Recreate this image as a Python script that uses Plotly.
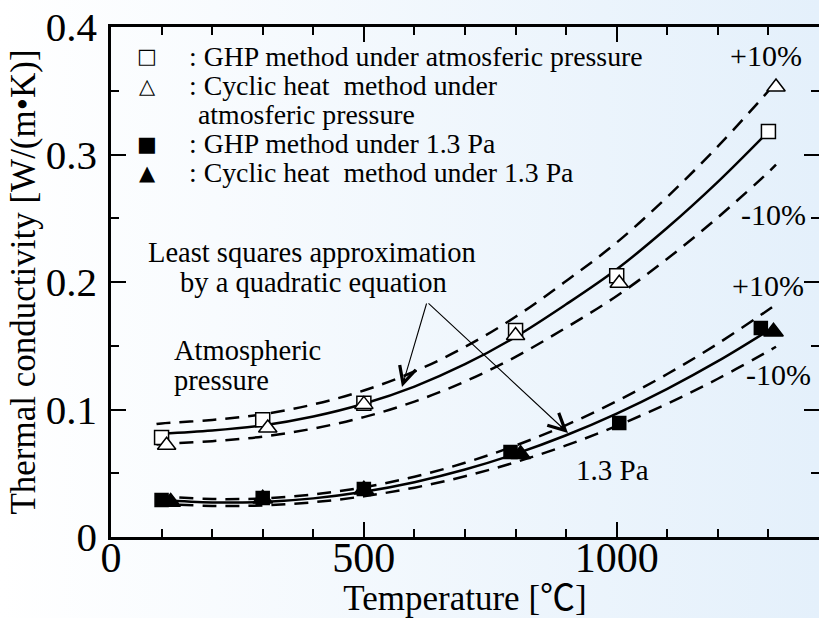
import base64
import plotly.graph_objects as go

# ---------------- data ----------------
# measured points (temperature degC, conductivity W/(m K))
ghp_atm_x = [100, 300, 500, 800, 1000, 1300]
ghp_atm_y = [0.078, 0.092, 0.105, 0.162, 0.205, 0.318]
cyc_atm_x = [110, 310, 500, 800, 1005, 1315]
cyc_atm_y = [0.072, 0.0855, 0.104, 0.158, 0.199, 0.353]
ghp_vac_x = [100, 300, 500, 790, 1005, 1285]
ghp_vac_y = [0.029, 0.0305, 0.0376, 0.0667, 0.0894, 0.164]
cyc_vac_x = [118, 300, 500, 810, 1310]
cyc_vac_y = [0.0275, 0.030, 0.037, 0.065, 0.161]

# least-squares quadratic curves
fit_x = [90, 100, 200, 300, 400, 500, 600, 700, 800, 900, 1000, 1100, 1200, 1300, 1315]
fit_atm = [0.0805, 0.081, 0.0835, 0.0875, 0.0945, 0.1045, 0.118, 0.1355, 0.157,
           0.1825, 0.210, 0.2425, 0.2785, 0.318, 0.3245]
fit_vac = [0.0296, 0.029, 0.0271, 0.0275, 0.0303, 0.0355, 0.043, 0.0529, 0.0652,
           0.0798, 0.0968, 0.1162, 0.1379, 0.162, 0.1658]
band_hi = 1.10   # +10 %
band_lo = 0.90   # -10 %

x_ticks = [0, 500, 1000]
x_ticktext = ["0", "500", "1000"]
y_ticks = [0, 0.1, 0.2, 0.3, 0.4]
y_ticktext = ["0", "0.1", "0.2", "0.3", "0.4"]

# ---------------- layout helpers ----------------
W, H = 819, 618
L, R, T, B = 111, 0, 27, 81
PW, PH = W - L - R, H - T - B
FONT = "Liberation Serif, Times New Roman, Noto Sans CJK JP, serif"


def px(xp):
    return (xp - L) / PW


def py(yp):
    return (H - B - yp) / PH


fig = go.Figure()

dash = "14px,9px"
for ys in (fit_atm, fit_vac):
    fig.add_trace(go.Scatter(x=fit_x, y=[v * band_hi for v in ys], mode="lines",
                             line=dict(color="black", width=2.5, dash=dash, shape="spline"),
                             showlegend=False, hoverinfo="skip"))
    fig.add_trace(go.Scatter(x=fit_x, y=[v * band_lo for v in ys], mode="lines",
                             line=dict(color="black", width=2.5, dash=dash, shape="spline"),
                             showlegend=False, hoverinfo="skip"))
    fig.add_trace(go.Scatter(x=fit_x[1:-1], y=ys[1:-1], mode="lines",
                             line=dict(color="black", width=2.5, shape="spline"),
                             showlegend=False, hoverinfo="skip"))

mk_line = dict(color="black", width=1.5)
fig.add_trace(go.Scatter(x=ghp_atm_x, y=ghp_atm_y, mode="markers", name="GHP atm",
                         marker=dict(symbol="square", size=14, color="white", line=mk_line)))
fig.add_trace(go.Scatter(x=cyc_atm_x, y=cyc_atm_y, mode="markers", name="Cyclic atm",
                         marker=dict(symbol="triangle-up", size=16, color="white", line=mk_line)))
fig.add_trace(go.Scatter(x=ghp_vac_x, y=ghp_vac_y, mode="markers", name="GHP 1.3 Pa",
                         marker=dict(symbol="square", size=13, color="black", line=mk_line)))
fig.add_trace(go.Scatter(x=cyc_vac_x, y=cyc_vac_y, mode="markers", name="Cyclic 1.3 Pa",
                         marker=dict(symbol="triangle-up", size=17, color="black", line=mk_line)))

ann = []


def text(xp, yp, s, size, xanchor="left", family=FONT):
    ann.append(dict(x=px(xp), y=py(yp), xref="paper", yref="paper", text=s,
                    showarrow=False, xanchor=xanchor, yanchor="middle",
                    font=dict(family=family, size=size, color="black")))


# legend block
SYM = "DejaVu Sans"
legend_rows = [
    (56, "\u25a1", ": GHP method under atmosferic pressure"),
    (85.5, "\u25b3", ": Cyclic heat \u00a0method under"),
    (143.5, "\u25a0", ": GHP method under 1.3 Pa"),
    (172.5, "\u25b2", ": Cyclic heat \u00a0method under 1.3 Pa"),
]
for yp, sym, s in legend_rows:
    text(147, yp, sym, 21, xanchor="center", family=SYM)
    text(187, yp, s, 27.8)
text(196, 114.5, "atmosferic pressure", 27.8)

# band labels
text(766, 55, "+10%", 30, xanchor="center")
text(773, 214, "-10%", 30, xanchor="center")
text(768, 285, "+10%", 30, xanchor="center")
text(778, 374, "-10%", 30, xanchor="center")

# curve labels
text(312, 252, "Least squares approximation", 28.5, xanchor="center")
text(313, 282, "by a quadratic equation", 28.5, xanchor="center")
text(172, 350, "Atmospheric", 28.5)
text(172, 380, "pressure", 28.5)
text(612, 470, "1.3 Pa", 29, xanchor="center")

# arrows from the caption to the two curves
tail = (427, 302)
for hx, hy in ((402, 387), (568, 433)):
    ann.append(dict(x=px(hx), y=py(hy), xref="paper", yref="paper",
                    ax=tail[0] - hx, ay=tail[1] - hy, axref="pixel", ayref="pixel",
                    showarrow=True, arrowhead=5, arrowsize=3, arrowwidth=1.1,
                    arrowcolor="black", text=""))

# gradient background as an svg image
svg = ('<svg xmlns="http://www.w3.org/2000/svg" width="819" height="618">'
       '<defs><linearGradient id="g" x1="0" y1="0" x2="1" y2="0">'
       '<stop offset="0" stop-color="#ffffff"/><stop offset="1" stop-color="#e4f0fb"/>'
       '</linearGradient></defs><rect width="819" height="618" fill="url(#g)"/></svg>')
src = "data:image/svg+xml;base64," + base64.b64encode(svg.encode()).decode()

axis_common = dict(showline=True, linecolor="black", linewidth=2.5, mirror="ticks",
                   ticks="inside", ticklen=15, tickwidth=2, tickcolor="black",
                   showgrid=False, zeroline=False, automargin=False)

fig.update_layout(
    width=W, height=H,
    margin=dict(l=L, r=R, t=T, b=B, pad=0),
    paper_bgcolor="rgba(0,0,0,0)", plot_bgcolor="rgba(0,0,0,0)",
    showlegend=False,
    font=dict(family=FONT, color="black"),
    xaxis=dict(range=[0, 1400], tickvals=x_ticks, ticktext=x_ticktext,
               tickfont=dict(size=42), ticklabelstandoff=-18,
               minor=dict(dtick=100, tick0=0, ticks="inside", ticklen=8, tickwidth=2,
                          tickcolor="black"),
               title=dict(text="Temperature [\u2103]", font=dict(size=35), standoff=21),
               **axis_common),
    yaxis=dict(range=[0, 0.4], tickvals=y_ticks, ticktext=y_ticktext,
               tickfont=dict(size=41), ticklabelstandoff=3,
               minor=dict(dtick=0.05, tick0=0, ticks="inside", ticklen=8, tickwidth=2,
                          tickcolor="black"),
               title=dict(text="Thermal conductivity [W/(m\u2022K)]", font=dict(size=35),
                          standoff=0),
               **axis_common),
    annotations=ann,
    images=[dict(source=src, xref="paper", yref="paper", x=-L / PW, y=1 + T / PH,
                 sizex=W / PW, sizey=H / PH, xanchor="left", yanchor="top",
                 sizing="stretch", layer="below")],
)

fig.write_html("out.html")
